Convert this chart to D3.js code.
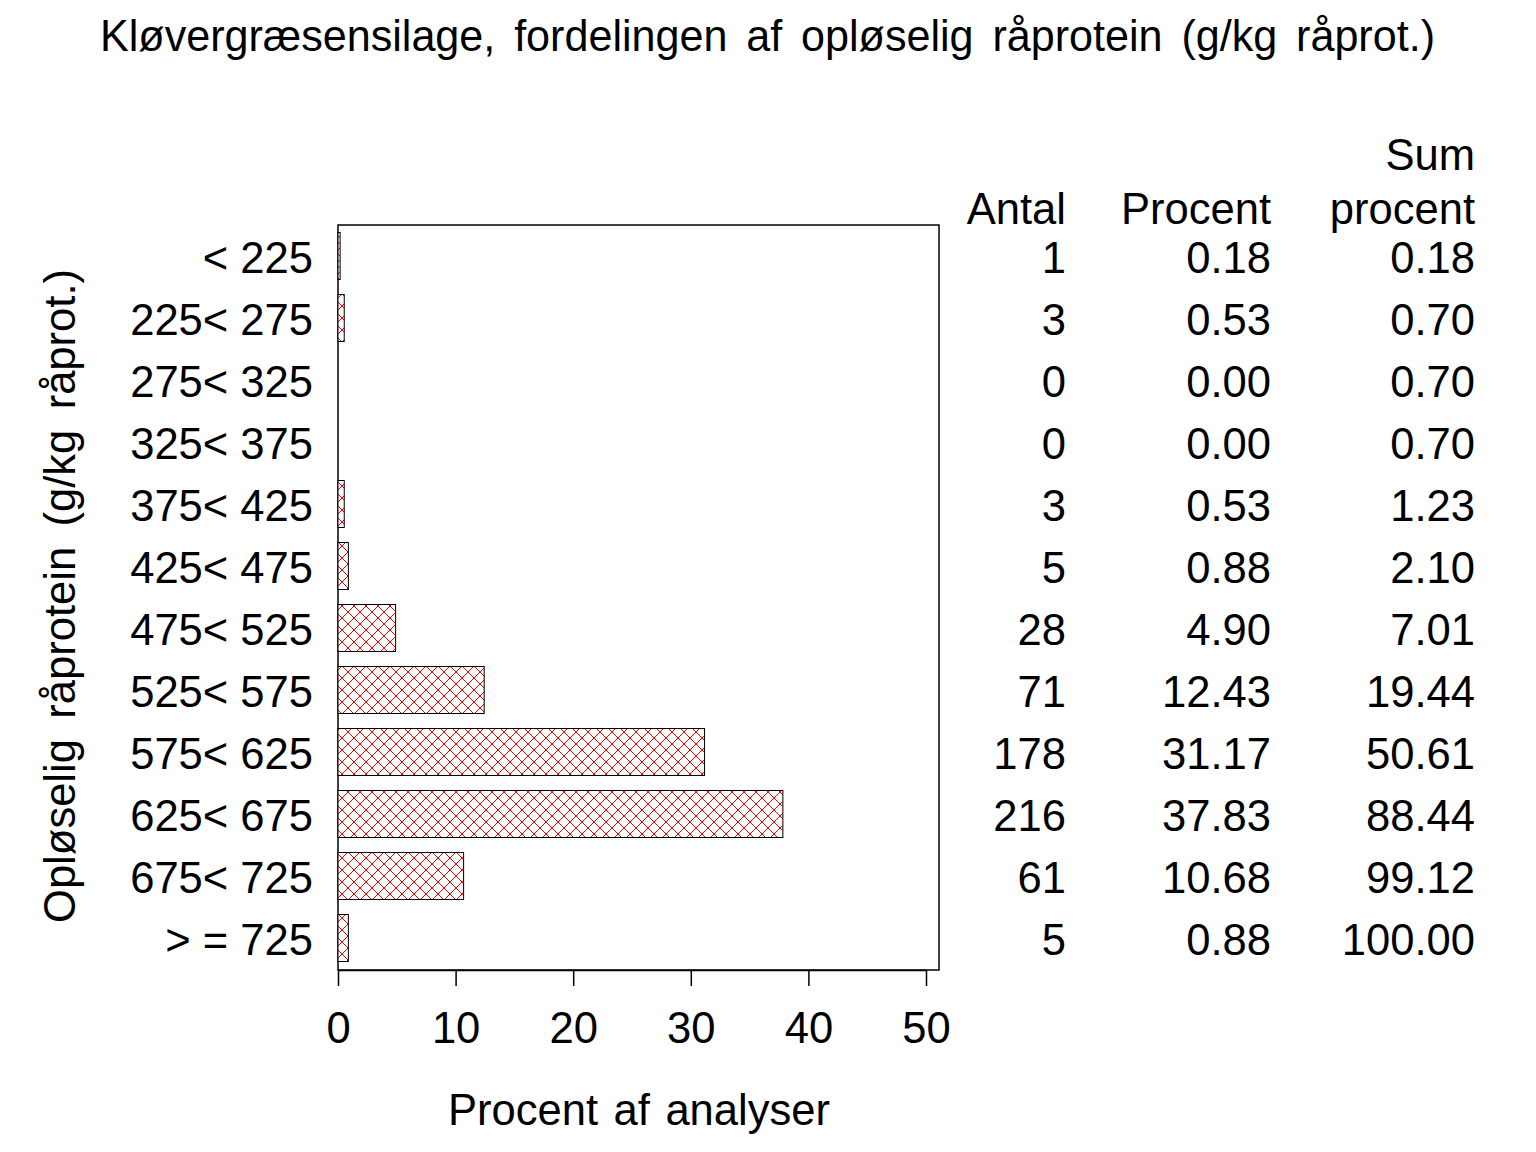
<!DOCTYPE html>
<html><head><meta charset="utf-8">
<script src="https://cdn.jsdelivr.net/npm/d3@7"></script>
<style>
body{margin:0;background:#fff}
text{font-family:"Liberation Sans",Arial,Helvetica,sans-serif;fill:#000}
</style>
</head><body>
<svg id="c" width="1536" height="1152"></svg>
<script>
const categories = ["< 225","225< 275","275< 325","325< 375","375< 425","425< 475","475< 525","525< 575","575< 625","625< 675","675< 725","> = 725"];
const antal = [1,3,0,0,3,5,28,71,178,216,61,5];
const procent = [0.18,0.53,0.00,0.00,0.53,0.88,4.90,12.43,31.17,37.83,10.68,0.88];
const sumProcent = [0.18,0.70,0.70,0.70,1.23,2.10,7.01,19.44,50.61,88.44,99.12,100.00];
const xTicks = [0,10,20,30,40,50];
const titleText = "Kløvergræsensilage, fordelingen af opløselig råprotein (g/kg råprot.)";
const yTitle = "Opløselig råprotein (g/kg råprot.)";
const xTitle = "Procent af analyser";
const colHeads = [["Antal"],["Procent"],["Sum","procent"]];

const FS = 44, SX = 0.99;
const svg = d3.select("#c");
svg.append("rect").attr("width",1536).attr("height",1152).attr("fill","#fff");

const defs = svg.append("defs");
const pat = defs.append("pattern").attr("id","hatch").attr("patternUnits","userSpaceOnUse")
  .attr("width",12).attr("height",12);
pat.append("rect").attr("width",12).attr("height",12).attr("fill","#fff");
pat.append("path").attr("d","M0,0L12,12M0,12L12,0M-1,1L1,-1M11,13L13,11M-1,11L1,13M11,-1L13,1")
  .attr("stroke","#ff0000").attr("stroke-width",1).attr("fill","none");

const x = d3.scaleLinear().domain([0,50]).range([338,926]);
const y = d3.scalePoint().domain(categories).range([256,938]);
const barH = 47;

function label(parent, tx, ty, s, anchor, sx, rot){
  const g = parent.append("g").attr("transform",`translate(${tx},${ty})${rot?` rotate(${rot})`:""} scale(${sx},1)`);
  return g.append("text").attr("text-anchor",anchor).attr("font-size",FS).text(s);
}
function spreadWords(t, target, sx){
  const n = t.text().split(" ").length - 1;
  const nat = t.node().getComputedTextLength();
  if(n>0) t.attr("word-spacing", Math.max(0, ((target/sx) - nat)/n));
}

// Title
const tt = label(svg, 767.5, 51, titleText, "middle", 0.98);
spreadWords(tt, 1335, 0.98);

// frame
svg.append("rect").attr("x",338).attr("y",225).attr("width",601).attr("height",745)
  .attr("fill","none").attr("stroke","#000").attr("stroke-width",1.5);

// bars
svg.append("g").selectAll("rect").data(categories.map((c,i)=>({c,v:procent[i]})).filter(d=>d.v>0))
  .join("rect")
  .attr("x",x(0)).attr("y",d=>y(d.c)-barH/2)
  .attr("width",d=>Math.max(1,x(d.v)-x(0))).attr("height",barH)
  .attr("fill","url(#hatch)").attr("stroke","#000").attr("stroke-width",1);

// x axis
const ax = svg.append("g").attr("transform","translate(0,970)")
  .call(d3.axisBottom(x).tickValues(xTicks).tickSize(16).tickSizeOuter(0).tickFormat(d3.format("d")));
ax.select(".domain").attr("stroke","#000").attr("stroke-width",1.5);
ax.selectAll(".tick line").attr("stroke","#000").attr("stroke-width",1.5);
ax.selectAll(".tick text").attr("font-size",FS).attr("font-family",null).attr("fill","#000")
  .attr("y",73).attr("dy",0).attr("transform",`scale(${SX},1)`);

// category labels
categories.forEach((c)=>{ label(svg, 313, y(c)+17, c, "end", SX); });

// y title
const yt = label(svg, 75, 596, yTitle, "middle", SX, -90);
spreadWords(yt, 654, SX);

// x title
const xt = label(svg, 639, 1125, xTitle, "middle", SX);
spreadWords(xt, 382, SX);

// table
const colX = [1066,1271,1475];
colHeads.forEach((h,i)=>{
  const base = 224;
  h.slice().reverse().forEach((s,k)=>{ label(svg, colX[i], base - k*54, s, "end", SX); });
});
categories.forEach((c,i)=>{
  label(svg, colX[0], y(c)+17, String(antal[i]), "end", SX);
  label(svg, colX[1], y(c)+17, procent[i].toFixed(2), "end", SX);
  label(svg, colX[2], y(c)+17, sumProcent[i].toFixed(2), "end", SX);
});
</script>
</body></html>
